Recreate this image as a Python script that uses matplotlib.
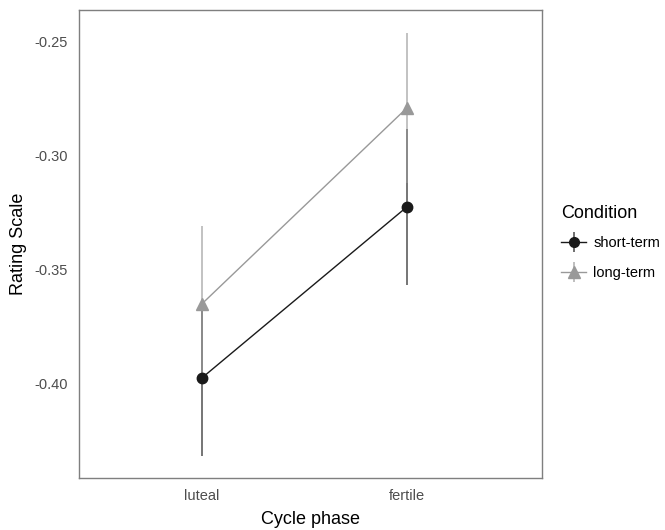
import matplotlib
matplotlib.use("Agg")
import matplotlib.pyplot as plt
from matplotlib.lines import Line2D
from matplotlib.legend_handler import HandlerTuple

plt.rcParams['font.family'] = ['Liberation Sans', 'DejaVu Sans']

phases = ["luteal", "fertile"]
conditions = ["short-term", "long-term"]
means = {
    "short-term": [-0.3974, -0.3226],
    "long-term": [-0.365, -0.2793],
}
errors = {
    "short-term": [0.034, 0.034],
    "long-term": [0.034, 0.033],
}
colors = {"short-term": "#1a1a1a", "long-term": "#999999"}
markers = {"short-term": "o", "long-term": "^"}
msizes = {"short-term": 7.5, "long-term": 9}

fig = plt.figure(figsize=(6.65, 5.3), dpi=100)
ax = fig.add_axes([79/665, 1-478/530, (542-79)/665, (478-10)/530])

xpos = [1, 2]
for cond in conditions:
    c = colors[cond]
    ax.errorbar(xpos, means[cond], yerr=errors[cond], fmt='none',
                ecolor=c, elinewidth=1.2, alpha=0.7, capsize=0, zorder=2)
    ax.plot(xpos, means[cond], color=c, lw=1.0, zorder=3)
    ax.plot(xpos, means[cond], linestyle='none', marker=markers[cond],
            color=c, markersize=msizes[cond], zorder=4)

ax.set_xlim(0.4, 2.66)
ax.set_ylim(-0.4412, -0.2364)
ax.set_xticks(xpos)
ax.set_xticklabels(phases)
ax.set_yticks([-0.40, -0.35, -0.30, -0.25])
ax.set_yticklabels(["-0.40", "-0.35", "-0.30", "-0.25"])
ax.tick_params(length=0, labelsize=10.5, labelcolor="#4d4d4d", pad=8)
for s in ax.spines.values():
    s.set_color("#7f7f7f")
    s.set_linewidth(1.0)
ax.set_xlabel("Cycle phase", fontsize=13, labelpad=6)
ax.set_ylabel("Rating Scale", fontsize=13, labelpad=5)

handles = []
for cond in conditions:
    c = colors[cond]
    h1 = Line2D([0], [0], color=c, lw=1.0, marker=markers[cond],
                markersize=msizes[cond] - 0.5)
    h2 = Line2D([0], [0], linestyle='none', marker='|', color=c,
                markersize=15, markeredgewidth=1.1, alpha=0.8)
    handles.append((h2, h1))
leg = fig.legend(handles, conditions, title="Condition", loc="upper left",
                 bbox_to_anchor=(551/665, 1-195/530), frameon=False,
                 fontsize=10.5, title_fontsize=13, handlelength=1.7,
                 handletextpad=0.5, labelspacing=1.1, alignment='left',
                 borderaxespad=0.3,
                 handler_map={tuple: HandlerTuple(ndivide=1)})
leg._legend_box.sep = 10

fig.savefig("out.png", dpi=100)
